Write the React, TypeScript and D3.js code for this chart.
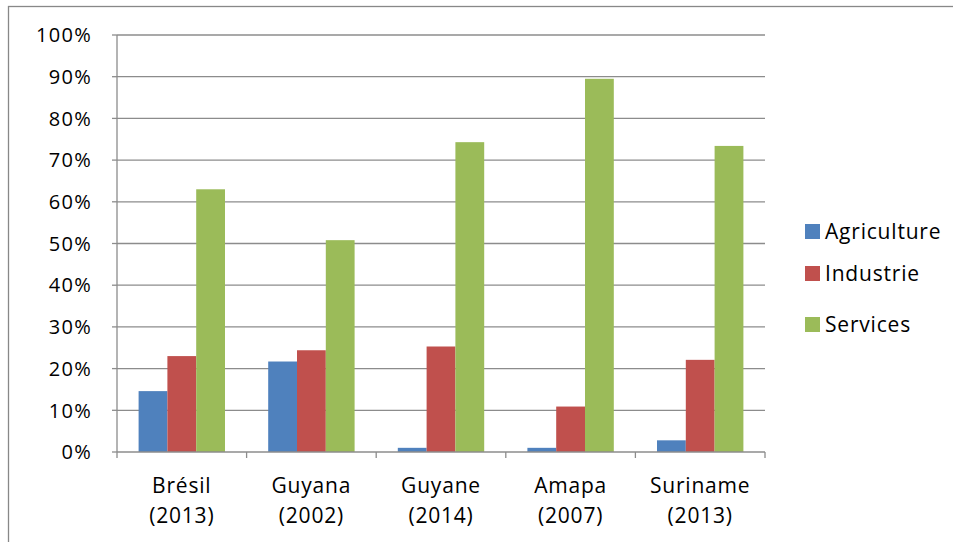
import React, { useEffect, useRef } from 'react';
import * as d3 from 'd3';

const width = 953;
const height = 542;

const categories = ['Brésil|(2013)', 'Guyana|(2002)', 'Guyane|(2014)', 'Amapa|(2007)', 'Suriname|(2013)'];
const seriesNames = ['Agriculture', 'Industrie', 'Services'];
const colors = ['#4f81bd', '#c0504d', '#9bbb59'];
const agriculture = [14.6, 21.7, 1.0, 1.0, 2.8];
const industrie = [23.0, 24.4, 25.3, 10.9, 22.1];
const services = [63.0, 50.8, 74.3, 89.5, 73.4];
const yTicks = [0, 10, 20, 30, 40, 50, 60, 70, 80, 90, 100];

const margin = { left: 117, right: 765, top: 35, bottom: 452 };
const font = '"Open Sans", sans-serif';

const App: React.FC = () => {
  const ref = useRef<SVGSVGElement>(null);

  useEffect(() => {
    if (!ref.current) return;
    const svg = d3.select(ref.current);
    svg.selectAll('*').remove();

    const series = [agriculture, industrie, services];

    svg
      .append('rect')
      .attr('x', 8.5)
      .attr('y', 6.5)
      .attr('width', 960)
      .attr('height', 560)
      .attr('fill', '#fff')
      .attr('stroke', '#888')
      .attr('stroke-width', 1.3);

    const x = d3
      .scaleBand<number>()
      .domain(categories.map((_, i) => i))
      .range([margin.left, margin.right]);
    const y = d3.scaleLinear().domain([0, 100]).range([margin.bottom, margin.top]);

    const barW = x.bandwidth() / 4.5;

    // gridlines
    svg
      .append('g')
      .selectAll('line')
      .data(yTicks.filter(t => t > 0))
      .enter()
      .append('line')
      .attr('x1', margin.left)
      .attr('x2', margin.right)
      .attr('y1', d => y(d))
      .attr('y2', d => y(d))
      .attr('stroke', '#8c8c8c')
      .attr('stroke-width', 1.3);

    // y axis
    const yAxis = svg.append('g');
    yAxis
      .append('line')
      .attr('x1', margin.left)
      .attr('x2', margin.left)
      .attr('y1', margin.top)
      .attr('y2', margin.bottom)
      .attr('stroke', '#8c8c8c')
      .attr('stroke-width', 1.3);
    yAxis
      .selectAll('line.tick')
      .data(yTicks)
      .enter()
      .append('line')
      .attr('class', 'tick')
      .attr('x1', margin.left - 5)
      .attr('x2', margin.left)
      .attr('y1', d => y(d))
      .attr('y2', d => y(d))
      .attr('stroke', '#8c8c8c')
      .attr('stroke-width', 1.3);
    yAxis
      .selectAll('text')
      .data(yTicks)
      .enter()
      .append('text')
      .attr('x', 92)
      .attr('y', d => y(d))
      .attr('dy', '0.36em')
      .attr('text-anchor', 'end')
      .style('font-family', font)
      .style('font-size', '20px')
      .style('letter-spacing', '1.3px')
      .attr('fill', '#000')
      .text(d => `${d}%`);

    // bars
    series.forEach((vals, s) => {
      svg
        .append('g')
        .selectAll('rect')
        .data(vals)
        .enter()
        .append('rect')
        .attr('x', (_, i) => (x(i) as number) + barW * 0.75 + s * barW)
        .attr('y', d => y(d))
        .attr('width', barW)
        .attr('height', d => y(0) - y(d))
        .attr('fill', colors[s]);
    });

    // x axis
    const xAxis = svg.append('g');
    xAxis
      .append('line')
      .attr('x1', margin.left)
      .attr('x2', margin.right)
      .attr('y1', margin.bottom)
      .attr('y2', margin.bottom)
      .attr('stroke', '#8c8c8c')
      .attr('stroke-width', 1.3);
    const edges = categories.map((_, i) => x(i) as number).concat([margin.right]);
    xAxis
      .selectAll('line.tick')
      .data(edges)
      .enter()
      .append('line')
      .attr('class', 'tick')
      .attr('x1', d => d)
      .attr('x2', d => d)
      .attr('y1', margin.bottom)
      .attr('y2', margin.bottom + 6)
      .attr('stroke', '#8c8c8c')
      .attr('stroke-width', 1.3);
    const labels = xAxis
      .selectAll('text')
      .data(categories)
      .enter()
      .append('text')
      .attr('x', (_, i) => (x(i) as number) + x.bandwidth() / 2)
      .attr('y', 493)
      .attr('text-anchor', 'middle')
      .style('font-family', font)
      .style('font-size', '21px')
      .style('letter-spacing', '0.8px')
      .attr('fill', '#000');
    labels
      .append('tspan')
      .attr('x', (_, i) => (x(i) as number) + x.bandwidth() / 2)
      .text(d => d.split('|')[0]);
    labels
      .append('tspan')
      .attr('x', (_, i) => (x(i) as number) + x.bandwidth() / 2)
      .attr('dy', 30)
      .text(d => d.split('|')[1]);

    // legend
    const legendY = [231, 273, 324];
    const legend = svg
      .append('g')
      .selectAll('g')
      .data(seriesNames)
      .enter()
      .append('g')
      .attr('transform', (_, i) => `translate(805, ${legendY[i]})`);
    legend
      .append('rect')
      .attr('x', 0)
      .attr('y', -7)
      .attr('width', 15)
      .attr('height', 15)
      .attr('fill', (_, i) => colors[i]);
    legend
      .append('text')
      .attr('x', 20)
      .attr('y', 0)
      .attr('dy', '0.36em')
      .style('font-family', font)
      .style('font-size', '21px')
      .style('letter-spacing', '0.8px')
      .attr('fill', '#000')
      .text(d => d);
  }, []);

  return (
    <svg
      ref={ref}
      width={width}
      height={height}
      style={{ position: 'absolute', top: 0, left: 0, background: '#fff' }}
    />
  );
};

export default App;
